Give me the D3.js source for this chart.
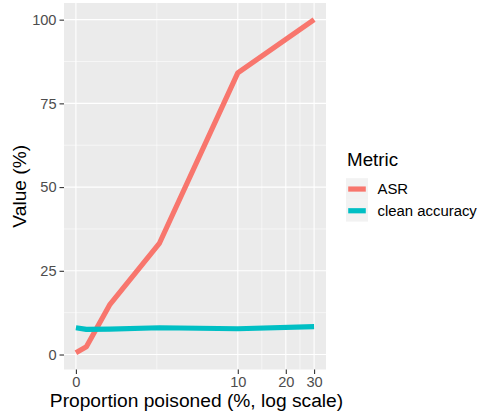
<!DOCTYPE html>
<html><head><meta charset="utf-8">
<script src="https://cdn.jsdelivr.net/npm/d3@7"></script>
<style>
html,body{margin:0;padding:0;background:#fff;}
svg{display:block;font-family:"Liberation Sans",Arial,Helvetica,sans-serif;}
</style></head>
<body>
<svg id="chart" width="478" height="412"></svg>
<script>
// Data
const proportions = [0, 0.3, 1, 3, 10, 30];
const asrValues = [0.5, 2.3, 14.8, 33.3, 84.1, 100];
const cleanValues = [8.0, 7.5, 7.6, 8.0, 7.7, 8.3];
const seriesNames = ["ASR", "clean accuracy"];
const seriesColors = ["#F8766D", "#00BFC4"];
const xTickValues = [0, 10, 20, 30];
const yTickValues = [0, 25, 50, 75, 100];
const xTitle = "Proportion poisoned (%, log scale)";
const yTitle = "Value (%)";
const legendTitle = "Metric";

const svg = d3.select("#chart");
const panel = {left: 64, right: 326, top: 3, bottom: 369.5};

// pseudo-log transform (asinh(x/2)), as ggplot's pseudo_log_trans
const tf = x => Math.asinh(x / 2);
const tfInv = t => 2 * Math.sinh(t);
const tMin = tf(d3.min(proportions)), tMax = tf(d3.max(proportions));
const tPad = (tMax - tMin) * 0.05;
const xLin = d3.scaleLinear().domain([tMin - tPad, tMax + tPad]).range([panel.left, panel.right]);
const x = v => xLin(tf(v));

const allVals = asrValues.concat(cleanValues);
const yMin = d3.min(allVals), yMax = d3.max(allVals);
const yPad = (yMax - yMin) * 0.05;
const y = d3.scaleLinear().domain([yMin - yPad, yMax + yPad]).range([panel.bottom, panel.top]);

// panel background
svg.append("rect").attr("x", panel.left).attr("y", panel.top)
  .attr("width", panel.right - panel.left).attr("height", panel.bottom - panel.top)
  .attr("fill", "#EBEBEB");

// minor grid
const yMinor = d3.range(yTickValues.length - 1).map(i => (yTickValues[i] + yTickValues[i + 1]) / 2);
const xMinor = d3.range(xTickValues.length - 1).map(i => tfInv((tf(xTickValues[i]) + tf(xTickValues[i + 1])) / 2));
const grid = svg.append("g");
yMinor.forEach(v => grid.append("line").attr("x1", panel.left).attr("x2", panel.right)
  .attr("y1", y(v)).attr("y2", y(v)).attr("stroke", "#fff").attr("stroke-width", 0.55));
xMinor.forEach(v => grid.append("line").attr("y1", panel.top).attr("y2", panel.bottom)
  .attr("x1", x(v)).attr("x2", x(v)).attr("stroke", "#fff").attr("stroke-width", 0.55));
yTickValues.forEach(v => grid.append("line").attr("x1", panel.left).attr("x2", panel.right)
  .attr("y1", y(v)).attr("y2", y(v)).attr("stroke", "#fff").attr("stroke-width", 1.1));
xTickValues.forEach(v => grid.append("line").attr("y1", panel.top).attr("y2", panel.bottom)
  .attr("x1", x(v)).attr("x2", x(v)).attr("stroke", "#fff").attr("stroke-width", 1.1));

// lines
const series = [asrValues, cleanValues];
const line = d3.line().x((d, i) => x(proportions[i])).y(d => y(d));
series.forEach((vals, i) => {
  svg.append("path").datum(vals).attr("d", line)
    .attr("fill", "none").attr("stroke", seriesColors[i])
    .attr("stroke-width", 5.2).attr("stroke-linejoin", "round").attr("stroke-linecap", "butt");
});

// axes
const xAxis = d3.axisBottom(xLin).tickValues(xTickValues.map(tf)).tickFormat((d, i) => xTickValues[i])
  .tickSizeOuter(0).tickSizeInner(4.5).tickPadding(3);
const gx = svg.append("g").attr("transform", `translate(0,${panel.bottom})`).call(xAxis);
gx.select(".domain").remove();
gx.selectAll(".tick line").attr("stroke", "#333333").attr("stroke-width", 1.1);
gx.selectAll(".tick text").attr("fill", "#4D4D4D").attr("font-size", 14.6)
  .attr("font-family", "Liberation Sans, Arial, sans-serif");

const yAxis = d3.axisLeft(y).tickValues(yTickValues).tickSizeOuter(0).tickSizeInner(4.5).tickPadding(3);
const gy = svg.append("g").attr("transform", `translate(${panel.left},0)`).call(yAxis);
gy.select(".domain").remove();
gy.selectAll(".tick line").attr("stroke", "#333333").attr("stroke-width", 1.1);
gy.selectAll(".tick text").attr("fill", "#4D4D4D").attr("font-size", 14.6)
  .attr("font-family", "Liberation Sans, Arial, sans-serif");

// titles
svg.append("text").attr("x", (panel.left + panel.right) / 2 + 1.5).attr("y", 407.3)
  .attr("text-anchor", "middle").attr("font-size", 19.2).attr("fill", "#000").text(xTitle);
svg.append("text").attr("transform", `translate(26,${(panel.top + panel.bottom) / 2}) rotate(-90)`)
  .attr("text-anchor", "middle").attr("font-size", 19.2).attr("fill", "#000").text(yTitle);

// legend
const lg = svg.append("g");
lg.append("text").attr("x", 347).attr("y", 166).attr("font-size", 18.8).attr("fill", "#000").text(legendTitle);
const keyH = 21.7, keyTop = 178.2;
seriesNames.forEach((name, i) => {
  const ky = keyTop + i * keyH;
  lg.append("rect").attr("x", 346).attr("y", ky).attr("width", 22).attr("height", keyH).attr("fill", "#F2F2F2");
  lg.append("line").attr("x1", 348.2).attr("x2", 365.8).attr("y1", ky + keyH / 2).attr("y2", ky + keyH / 2)
    .attr("stroke", seriesColors[i]).attr("stroke-width", 5.2);
  lg.append("text").attr("x", 377.5).attr("y", ky + keyH / 2).attr("dy", "0.35em")
    .attr("font-size", 14.9).attr("fill", "#000").text(name);
});
</script>
</body></html>
